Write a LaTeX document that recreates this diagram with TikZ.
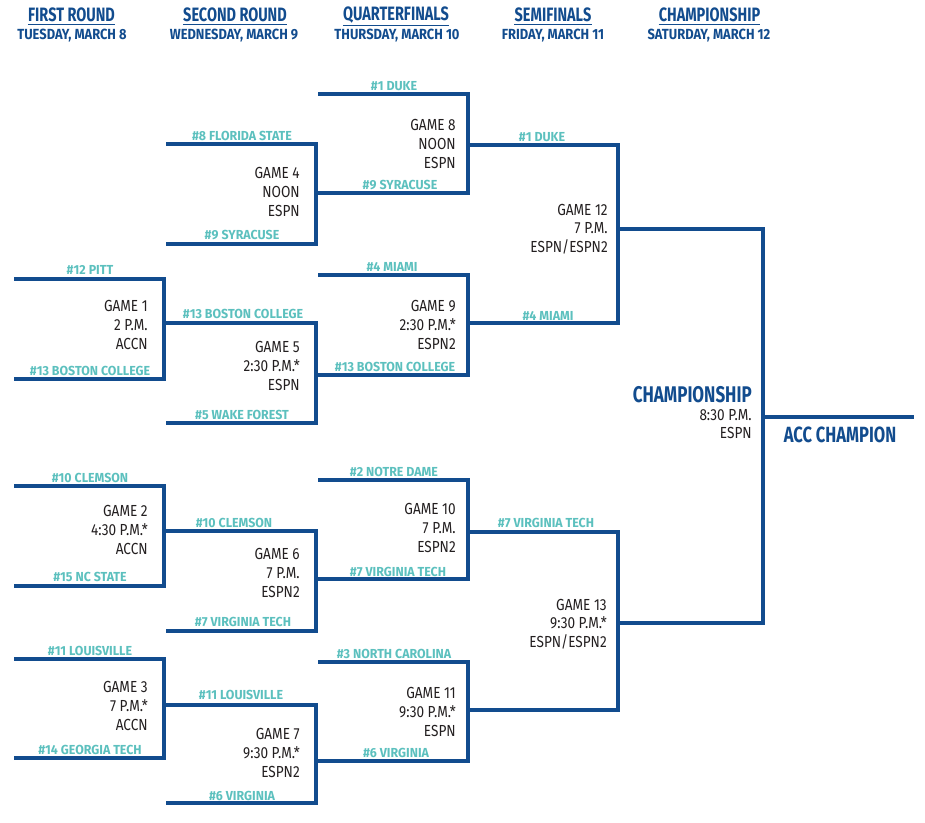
\documentclass[tikz,border=0pt]{standalone}
\usepackage{fontspec}
\setmainfont[FakeStretch=0.85]{Fira Sans}
\newfontfamily\headfont[FakeStretch=0.75]{Fira Sans}
\newfontfamily\dayfont[FakeStretch=0.88]{Fira Sans}
\newfontfamily\teamfont[FakeStretch=0.95]{Fira Sans}
\definecolor{accblue}{HTML}{124C8E}
\definecolor{teamteal}{HTML}{5CC0BE}
\definecolor{gametext}{HTML}{231F20}
\tikzset{
  bline/.style={draw=accblue, line width=2.4pt},
  team/.style={text=teamteal, inner sep=0pt, font=\teamfont\fontsize{9.8}{10}\selectfont\bfseries},
  game/.style={text=gametext, inner sep=0pt, anchor=east, align=right, font=\fontsize{12}{13.9}\selectfont},
  roundhead/.style={text=accblue, inner sep=0pt, font=\headfont\fontsize{14.5}{15}\selectfont\bfseries},
  roundday/.style={text=accblue, inner sep=0pt, font=\dayfont\fontsize{11}{11}\selectfont\bfseries},
}
\begin{document}
\begin{tikzpicture}[x=0.75pt,y=-0.75pt]
\useasboundingbox (0,0) rectangle (925,823);

% headers
\node[roundhead] (h1) at (71.5,15) {FIRST ROUND};
\node[roundhead] (h2) at (235,15) {SECOND ROUND};
\node[roundhead] (h3) at (396,15) {QUARTERFINALS};
\node[roundhead] (h4) at (553,15) {SEMIFINALS};
\node[roundhead] (h5) at (709.5,15) {CHAMPIONSHIP};
\foreach \h in {h1,h2,h3,h4,h5}
  \draw[accblue, line width=1.1pt] ([yshift=-1.6pt]\h.south west) -- ([yshift=-1.6pt]\h.south east);
\node[roundday] (d1) at (72,36) {TUESDAY, MARCH 8};
\node[roundday] (d2) at (234,36) {WEDNESDAY, MARCH 9};
\node[roundday] (d3) at (397,36) {THURSDAY, MARCH 10};
\node[roundday] (d4) at (553,36) {FRIDAY, MARCH 11};
\node[roundday] (d5) at (709,36) {SATURDAY, MARCH 12};

% first round
\draw[bline] (14,279) -- (164,279) -- (164,379) -- (14,379);
\draw[bline] (14,486) -- (164,486) -- (164,586) -- (14,586);
\draw[bline] (14,659) -- (164,659) -- (164,758) -- (14,758);

% second round
\draw[bline] (166,144) -- (316,144) -- (316,244) -- (166,244);
\draw[bline] (164,323) -- (316,323) -- (316,423) -- (166,423);
\draw[bline] (164,531) -- (316,531) -- (316,631) -- (166,631);
\draw[bline] (164,705) -- (316,705) -- (316,803) -- (166,803);

% quarterfinals
\draw[bline] (318,94) -- (468,94) -- (468,193) -- (316,193);
\draw[bline] (318,275) -- (468,275) -- (468,375) -- (316,375);
\draw[bline] (318,480) -- (468,480) -- (468,579) -- (316,579);
\draw[bline] (318,662) -- (468,662) -- (468,761) -- (316,761);

% semifinals
\draw[bline] (468,145) -- (618,145) -- (618,323) -- (468,323);
\draw[bline] (468,532) -- (618,532) -- (618,710) -- (468,710);

% championship
\draw[bline] (618,229) -- (763,229) -- (763,623) -- (618,623);
\draw[bline] (763,417) -- (914,417);

% teams
\node[team] (t1) at (90,270) {\#12 PITT};
\node[team] (t2) at (90,371) {\#13 BOSTON COLLEGE};
\node[team] (t3) at (90,478) {\#10 CLEMSON};
\node[team] (t4) at (90,577) {\#15 NC STATE};
\node[team] (t5) at (90,651) {\#11 LOUISVILLE};
\node[team] (t6) at (90,750) {\#14 GEORGIA TECH};

\node[team] (t7) at (242,136) {\#8 FLORIDA STATE};
\node[team] (t8) at (242,235) {\#9 SYRACUSE};
\node[team] (t9) at (243,314) {\#13 BOSTON COLLEGE};
\node[team] (t10) at (242,415) {\#5 WAKE FOREST};
\node[team] (t11) at (234,523) {\#10 CLEMSON};
\node[team] (t12) at (243,622) {\#7 VIRGINIA TECH};
\node[team] (t13) at (241,695) {\#11 LOUISVILLE};
\node[team] (t14) at (242,796) {\#6 VIRGINIA};

\node[team] (t15) at (394,86) {\#1 DUKE};
\node[team] (t16) at (400,185) {\#9 SYRACUSE};
\node[team] (t17) at (392,267) {\#4 MIAMI};
\node[team] (t18) at (395,367) {\#13 BOSTON COLLEGE};
\node[team] (t19) at (394,472) {\#2 NOTRE DAME};
\node[team] (t20) at (398,572) {\#7 VIRGINIA TECH};
\node[team] (t21) at (394,654) {\#3 NORTH CAROLINA};
\node[team] (t22) at (396,753) {\#6 VIRGINIA};

\node[team] (t23) at (542,137) {\#1 DUKE};
\node[team] (t24) at (548,316) {\#4 MIAMI};
\node[team] (t25) at (546,523) {\#7 VIRGINIA TECH};

% games
\node[game] (g1) at (148,325) {GAME 1\\2 P.M.\\ACCN};
\node[game] (g2) at (148,530) {GAME 2\\4:30 P.M.*\\ACCN};
\node[game] (g3) at (148,706) {GAME 3\\7 P.M.*\\ACCN};
\node[game] (g4) at (300,192) {GAME 4\\NOON\\ESPN};
\node[game] (g5) at (300,366) {GAME 5\\2:30 P.M.*\\ESPN};
\node[game] (g6) at (300,573) {GAME 6\\7 P.M.\\ESPN2};
\node[game] (g7) at (300,753) {GAME 7\\9:30 P.M.*\\ESPN2};
\node[game] (g8) at (456,144) {GAME 8\\NOON\\ESPN};
\node[game] (g9) at (456,325) {GAME 9\\2:30 P.M.*\\ESPN2};
\node[game] (g10) at (456,528) {GAME 10\\7 P.M.\\ESPN2};
\node[game] (g11) at (456,712) {GAME 11\\9:30 P.M.*\\ESPN};
\node[game] (g12) at (608,229) {GAME 12\\7 P.M.\\ESPN/ESPN2};
\node[game] (g13) at (607,624) {GAME 13\\9:30 P.M.*\\ESPN/ESPN2};

\node[roundhead, anchor=east, font=\headfont\fontsize{17}{18}\selectfont\bfseries] (champ) at (752,395) {CHAMPIONSHIP};
\node[game] (g14) at (752,424) {8:30 P.M.\\ESPN};
\node[roundhead, font=\headfont\fontsize{16.5}{17}\selectfont\bfseries] (winner) at (840,435) {ACC CHAMPION};
\end{tikzpicture}
\end{document}
